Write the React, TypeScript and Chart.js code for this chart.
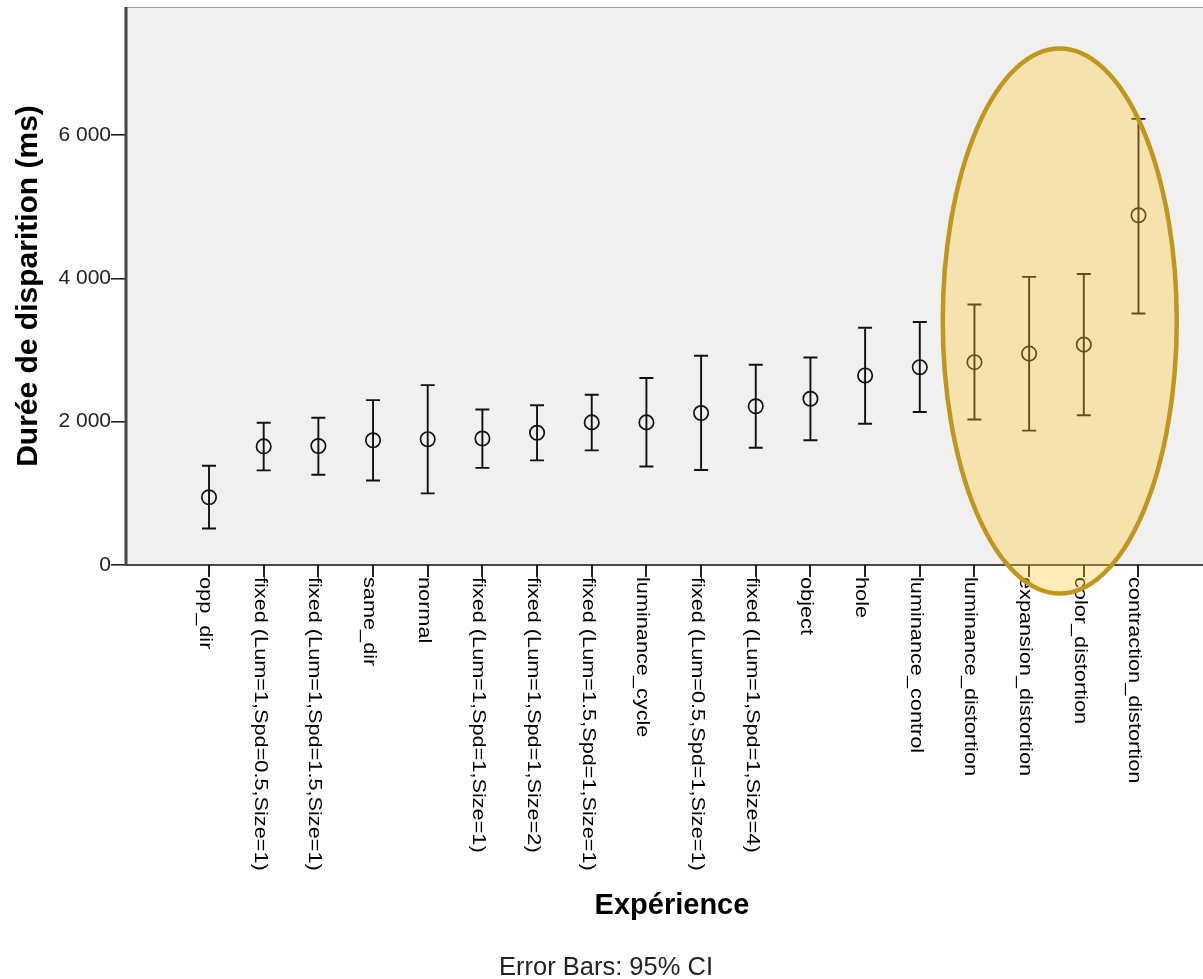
import React, { useEffect, useRef } from 'react';
import { Chart, registerables } from 'chart.js';

Chart.register(...registerables);

// ---------- data ----------
const categories = [
  'opp_dir',
  'fixed (Lum=1,Spd=0.5,Size=1)',
  'fixed (Lum=1,Spd=1.5,Size=1)',
  'same_dir',
  'normal',
  'fixed (Lum=1,Spd=1,Size=1)',
  'fixed (Lum=1,Spd=1,Size=2)',
  'fixed (Lum=1.5,Spd=1,Size=1)',
  'luminance_cycle',
  'fixed (Lum=0.5,Spd=1,Size=1)',
  'fixed (Lum=1,Spd=1,Size=4)',
  'object',
  'hole',
  'luminance_control',
  'luminance_distortion',
  'expansion_distortion',
  'color_distortion',
  'contraction_distortion',
];

const means = [945, 1655, 1660, 1740, 1755, 1765, 1845, 1990, 1990, 2120, 2215, 2320, 2645, 2760, 2830, 2950, 3075, 4880];
const lowerCI = [510, 1320, 1260, 1180, 1000, 1355, 1460, 1600, 1375, 1325, 1635, 1740, 1970, 2135, 2030, 1875, 2090, 3510];
const upperCI = [1385, 1985, 2055, 2300, 2510, 2170, 2230, 2375, 2610, 2920, 2795, 2895, 3310, 3390, 3635, 4020, 4060, 6225];

const yTicks = [0, 2000, 4000, 6000];
const yMax = 7786;
const xMin = -1.5;
const xMax = 18.18;

const yTitle = 'Durée de disparition (ms)';
const xTitle = 'Expérience';
const footnote = 'Error Bars: 95% CI';

// highlight ellipse, in data units (category index, ms)
const highlightCenter = [15.56, 3405];
const highlightRadius = [2.14, 3802];

const FONT = '"Liberation Sans", Arial, Helvetica, sans-serif';

function fmt(v: number): string {
  return String(v).replace(/\B(?=(\d{3})+(?!\d))/g, ' ');
}

const spssPlugin = {
  id: 'spssDecor',
  beforeDraw(chart: any) {
    const { ctx, chartArea: a } = chart;
    ctx.save();
    ctx.fillStyle = '#f0f0f0';
    ctx.fillRect(a.left, a.top, a.right - a.left, a.bottom - a.top);
    ctx.restore();
  },
  beforeDatasetsDraw(chart: any) {
    const { ctx } = chart;
    const xs = chart.scales.x;
    const ys = chart.scales.y;
    ctx.save();
    ctx.strokeStyle = '#111';
    ctx.lineWidth = 1.9;
    const cap = 7;
    for (let i = 0; i < categories.length; i++) {
      const x = xs.getPixelForValue(i);
      const yt = ys.getPixelForValue(upperCI[i]);
      const yb = ys.getPixelForValue(lowerCI[i]);
      ctx.beginPath();
      ctx.moveTo(x, yt);
      ctx.lineTo(x, yb);
      ctx.moveTo(x - cap, yt);
      ctx.lineTo(x + cap, yt);
      ctx.moveTo(x - cap, yb);
      ctx.lineTo(x + cap, yb);
      ctx.stroke();
    }
    ctx.restore();
  },
  afterDraw(chart: any) {
    const { ctx, chartArea: a } = chart;
    const xs = chart.scales.x;
    const ys = chart.scales.y;
    ctx.save();

    // axes lines
    ctx.strokeStyle = '#999';
    ctx.lineWidth = 1;
    ctx.beginPath();
    ctx.moveTo(a.left, a.top + 0.5);
    ctx.lineTo(a.right, a.top + 0.5);
    ctx.stroke();

    ctx.strokeStyle = '#111';
    ctx.lineWidth = 1.6;
    ctx.beginPath();
    ctx.moveTo(a.left, a.bottom);
    ctx.lineTo(a.right, a.bottom);
    ctx.stroke();

    ctx.strokeStyle = '#444';
    ctx.lineWidth = 3;
    ctx.beginPath();
    ctx.moveTo(a.left - 1, a.top);
    ctx.lineTo(a.left - 1, a.bottom + 1);
    ctx.stroke();

    // x category labels, rotated clockwise
    ctx.fillStyle = '#000';
    ctx.font = `17.5px ${FONT}`;
    ctx.textAlign = 'left';
    ctx.textBaseline = 'alphabetic';
    categories.forEach((c, i) => {
      const x = xs.getPixelForValue(i);
      ctx.save();
      ctx.translate(x, a.bottom + 12);
      ctx.rotate(Math.PI / 2);
      ctx.scale(1.24, 1);
      ctx.fillText(c, 0, 9);
      ctx.restore();
    });

    // y title
    ctx.save();
    ctx.fillStyle = '#000';
    ctx.font = `bold 30px ${FONT}`;
    ctx.textAlign = 'center';
    ctx.textBaseline = 'alphabetic';
    ctx.translate(37, (a.top + a.bottom) / 2);
    ctx.rotate(-Math.PI / 2);
    ctx.fillText(yTitle, 0, 0);
    ctx.restore();

    // x title
    ctx.fillStyle = '#000';
    ctx.font = `bold 29px ${FONT}`;
    ctx.textAlign = 'center';
    ctx.fillText(xTitle, 672, 914);

    // footnote
    ctx.fillStyle = '#222';
    ctx.font = `25.5px ${FONT}`;
    ctx.textAlign = 'left';
    ctx.fillText(footnote, 499, 975);

    // highlight ellipse
    const cx = xs.getPixelForValue(highlightCenter[0]);
    const cy = ys.getPixelForValue(highlightCenter[1]);
    const rx = xs.getPixelForValue(highlightCenter[0] + highlightRadius[0]) - cx;
    const ry = cy - ys.getPixelForValue(highlightCenter[1] + highlightRadius[1]);
    ctx.beginPath();
    ctx.ellipse(cx, cy, rx, ry, 0, 0, Math.PI * 2);
    ctx.fillStyle = 'rgba(255, 200, 50, 0.34)';
    ctx.fill();
    ctx.lineWidth = 4.5;
    ctx.strokeStyle = '#c0961c';
    ctx.stroke();

    ctx.restore();
  },
};

export default function App() {
  const ref = useRef<HTMLCanvasElement | null>(null);

  useEffect(() => {
    if (!ref.current) return;
    const chart = new Chart(ref.current, {
      type: 'scatter',
      data: {
        datasets: [
          {
            data: means.map((m, i) => ({ x: i, y: m })),
            pointStyle: 'circle',
            pointRadius: 7.2,
            pointHoverRadius: 7.2,
            pointBorderWidth: 1.7,
            borderColor: '#111',
            backgroundColor: 'rgba(0,0,0,0)',
            showLine: false,
          },
        ],
      },
      options: {
        animation: false,
        responsive: false,
        events: [],
        layout: { autoPadding: false, padding: { top: 7, left: 0, right: 0, bottom: 0 } },
        plugins: {
          legend: { display: false },
          tooltip: { enabled: false },
          title: { display: false },
        },
        scales: {
          x: {
            type: 'linear',
            min: xMin,
            max: xMax,
            afterBuildTicks: (s: any) => {
              s.ticks = categories.map((_, i) => ({ value: i }));
            },
            afterFit: (s: any) => {
              s.height = 979 - 565;
              s.paddingLeft = 0;
              s.paddingRight = 0;
              s.paddingTop = 0;
              s.paddingBottom = 0;
            },
            ticks: { display: false },
            border: { display: false },
            grid: {
              drawOnChartArea: false,
              drawTicks: true,
              tickLength: 12,
              color: '#222',
              lineWidth: 2,
            },
          },
          y: {
            type: 'linear',
            min: 0,
            max: yMax,
            afterBuildTicks: (s: any) => {
              s.ticks = yTicks.map((v) => ({ value: v }));
            },
            afterFit: (s: any) => {
              s.width = 127;
              s.paddingLeft = 0;
              s.paddingRight = 0;
              s.paddingTop = 0;
              s.paddingBottom = 0;
            },
            ticks: {
              padding: 0,
              color: '#222',
              font: { family: FONT, size: 21 },
              callback: (v: any) => fmt(Number(v)),
            },
            border: { display: false },
            grid: {
              drawOnChartArea: false,
              drawTicks: true,
              tickLength: 16,
              color: '#222',
              lineWidth: 1.6,
            },
          },
        },
      },
      plugins: [spssPlugin],
    });
    return () => chart.destroy();
  }, []);

  return (
    <div style={{ position: 'absolute', left: 0, top: 0, width: 1203, height: 979, background: '#fff' }}>
      <canvas ref={ref} width={1203} height={979} style={{ display: 'block', width: 1203, height: 979 }} />
    </div>
  );
}
